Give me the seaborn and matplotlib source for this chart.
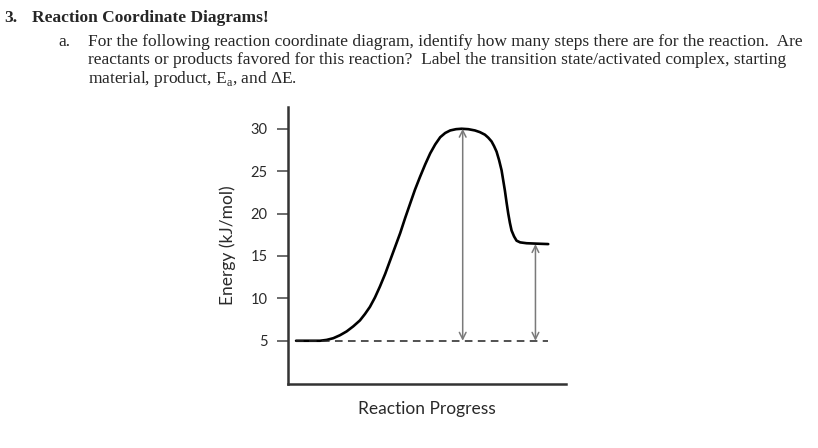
import numpy as np
import pandas as pd
import matplotlib
matplotlib.use('Agg')
import matplotlib.pyplot as plt
import seaborn as sns

# Curve (x = reaction progress 0-100, y = energy kJ/mol)
progress = [2.8, 7.0, 11.4, 13.8, 16.2, 18.6, 21.0, 23.4, 25.8, 27.6, 29.4, 31.2,
            33.0, 34.9, 36.7, 38.5, 40.3, 42.1, 43.9, 45.6, 47.4, 49.3, 51.1, 52.9,
            54.7, 56.5, 58.3, 60.4, 62.4, 64.8, 67.2, 69.0, 70.8, 72.0, 73.2, 74.1,
            75.0, 75.9, 76.8, 77.4, 78.0, 78.6, 79.2, 79.8, 80.4, 81.3, 82.2, 83.5,
            85.8, 89.5, 93.6]
energy = [5.0, 5.0, 5.0, 5.1, 5.3, 5.65, 6.1, 6.7, 7.4, 8.15, 9.0, 10.1,
          11.4, 12.9, 14.5, 16.1, 17.7, 19.5, 21.2, 22.8, 24.3, 25.8, 27.1, 28.15,
          29.0, 29.5, 29.8, 29.95, 30.0, 29.95, 29.8, 29.6, 29.3, 28.95, 28.5, 27.95,
          27.3, 26.3, 25.1, 23.9, 22.7, 21.3, 20.0, 18.9, 18.0, 17.3, 16.8, 16.6,
          16.5, 16.45, 16.4]
y_ticks = [5, 10, 15, 20, 25, 30]

reactant_level = 5.0
ts_level = 30.0
product_level = 16.4
ea_x = 62.8
de_x = 89.0

df = pd.DataFrame({'Progress': progress, 'Energy': energy})

sns.set_style('white')
plt.rcParams['mathtext.fontset'] = 'custom'
plt.rcParams['mathtext.rm'] = 'Liberation Serif'

fig = plt.figure(figsize=(8.18, 4.48), dpi=100)
ax = fig.add_axes([288.3 / 818, 1 - 384 / 448, (566 - 288.3) / 818, (384 - 106.7) / 448])

sns.lineplot(data=df, x='Progress', y='Energy', ax=ax, color='black', linewidth=1.9,
             solid_joinstyle='round', solid_capstyle='round')

# baseline of reactants
ax.hlines(reactant_level, progress[0], progress[-1], colors='#222222',
          linestyles=(0, (5, 3.5)), linewidth=1.1)

# Ea and dE arrows
arrow = dict(arrowstyle='<->', color='#7a7a7a', lw=1.1, shrinkA=0, shrinkB=0,
             mutation_scale=12)
ax.annotate('', xy=(ea_x, ts_level), xytext=(ea_x, reactant_level), arrowprops=arrow)
ax.annotate('', xy=(de_x, product_level), xytext=(de_x, reactant_level), arrowprops=arrow)

ax.set_xlim(0, 100)
ax.set_ylim(-0.1, 32.6)
ax.set_xticks([])
ax.set_yticks(y_ticks)
ax.tick_params(axis='y', direction='out', length=8, width=1.1, color='#444444',
               labelsize=10.5, labelcolor='#2a2a2a', pad=7, left=True)
for lab in ax.get_yticklabels():
    lab.set_family('Lato')
for side in ['top', 'right']:
    ax.spines[side].set_visible(False)
for side in ['left', 'bottom']:
    ax.spines[side].set_color('#333333')
    ax.spines[side].set_linewidth(1.8)

ax.set_xlabel('Reaction Progress', fontsize=12.5, family='Lato', color='#2a2a2a', labelpad=12)
ax.set_ylabel('Energy (kJ/mol)', fontsize=12.5, family='Lato', color='#2a2a2a', labelpad=10)

# question text above the chart
serif = 'Liberation Serif'
H = 448.0
fs = 12.5
fig.text(4 / 818, 1 - 22 / H, '3.', family=serif, fontsize=fs, weight='bold', va='baseline')
fig.text(32 / 818, 1 - 22 / H, 'Reaction Coordinate Diagrams!', family=serif, fontsize=fs,
         weight='bold', va='baseline')
fig.text(58 / 818, 1 - 46 / H, 'a.', family=serif, fontsize=fs, va='baseline')
lines = ['For the following reaction coordinate diagram, identify how many steps there are for the reaction.  Are',
         'reactants or products favored for this reaction?  Label the transition state/activated complex, starting',
         r'material, product, E$_\mathrm{a}$, and ΔE.']
for i, txt in enumerate(lines):
    fig.text(88 / 818, 1 - (46 + 18.3 * i) / H, txt, family=serif, fontsize=fs, va='baseline')

fig.savefig('out.png', dpi=100)
